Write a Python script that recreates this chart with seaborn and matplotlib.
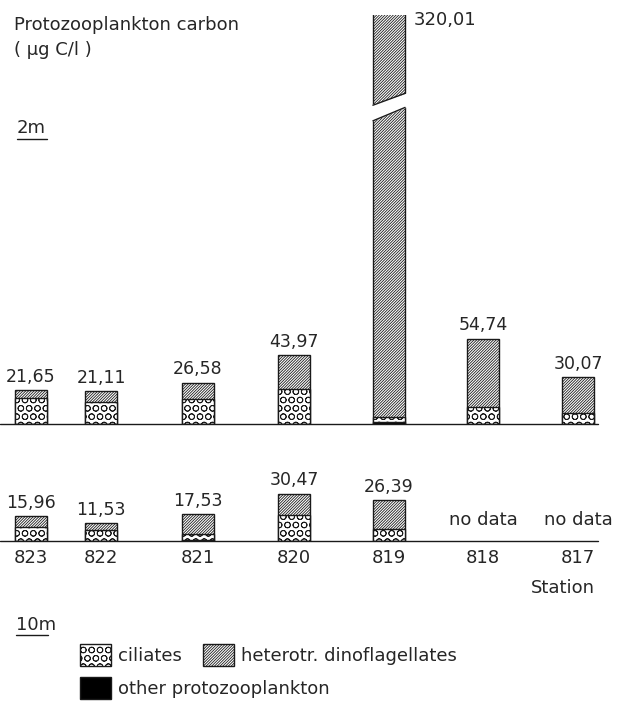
"""Protozooplankton carbon at 2 m and 10 m along the station transect."""

import numpy as np
import pandas as pd
import matplotlib
import matplotlib.pyplot as plt
from matplotlib.lines import Line2D
from matplotlib.patches import Patch, Polygon
import seaborn as sns

matplotlib.use("Agg")

STATIONS = ["823", "822", "821", "820", "819", "818", "817"]
# station position along the transect (arbitrary distance units)
TRANSECT_POS = [31, 101, 198, 294, 389, 483, 578]

TOTAL_2M = [21.65, 21.11, 26.58, 43.97, 320.01, 54.74, 30.07]
CILIATES_2M = [16.5, 14.0, 16.0, 22.5, 3.0, 11.0, 7.0]
OTHER_2M = [0.0, 0.0, 0.0, 0.0, 1.5, 0.0, 0.0]

TOTAL_10M = [15.96, 11.53, 17.53, 30.47, 26.39, np.nan, np.nan]
CILIATES_10M = [9.0, 7.0, 3.5, 17.0, 8.0, np.nan, np.nan]
OTHER_10M = [0.0, 0.0, 0.8, 0.0, 0.0, np.nan, np.nan]

W, H = 620, 707
EDGE = "#1a1a1a"
HATCH_DINO = "////////////"
HATCH_CIL = "OO"
BAR_W = 0.46
HALF_BAR = BAR_W * 70 / 2
TOP_YMAX = 262.0
BOT_YMAX = 38.5

sns.set_style("white")
plt.rcParams["font.family"] = ["DejaVu Sans"]
plt.rcParams["hatch.linewidth"] = 0.6


def fmt(v):
    return f"{v:.2f}".replace(".", ",")


def draw_panel(ax, total, cil, other, ymax):
    df = pd.DataFrame({
        "pos": TRANSECT_POS,
        "total": total,
        "cil_other": np.add(cil, other),
        "other": other,
    })
    common = dict(data=df, x="pos", native_scale=True, width=BAR_W, ax=ax,
                  errorbar=None, saturation=1, linewidth=1.0, edgecolor=EDGE)
    sns.barplot(y="total", color="white", hatch=HATCH_DINO, **common)
    sns.barplot(y="cil_other", color="white", hatch=HATCH_CIL, **common)
    sns.barplot(y="other", color="black", **common)

    ax.set_xlim(0, W)
    ax.set_ylim(0, ymax)
    ax.axhline(0, xmin=0, xmax=0.965, color=EDGE, lw=1.0, clip_on=False, zorder=4)
    for p, v in zip(TRANSECT_POS, total):
        if np.isnan(v):
            ax.text(p, ymax * 0.35, "no data", ha="center", va="center", fontsize=13)
        elif v > ymax:
            ax.annotate(fmt(v), (p, ymax), xytext=(18, 3), textcoords="offset points",
                        ha="left", va="top", fontsize=13)
        else:
            ax.annotate(fmt(v), (p, v), xytext=(0, 3), textcoords="offset points",
                        ha="center", va="bottom", fontsize=12.5)
    for s in ax.spines.values():
        s.set_visible(False)
    ax.set_xlabel("")
    ax.set_ylabel("")
    ax.set_yticks([])


fig = plt.figure(figsize=(W / 100, H / 100), dpi=100)

ax_top = fig.add_axes([0, 1 - 424 / H, 1, 409 / H])
draw_panel(ax_top, TOTAL_2M, CILIATES_2M, OTHER_2M, TOP_YMAX)
ax_top.set_xticks([])

# axis break on the tall bar
i_big = int(np.argmax(TOTAL_2M))
x0 = TRANSECT_POS[i_big] - HALF_BAR
x1 = TRANSECT_POS[i_big] + HALF_BAR
ax_top.add_patch(Polygon([(x0 - 3, 193), (x1 + 3, 203), (x1 + 3, 212), (x0 - 3, 204)],
                         closed=True, facecolor="white", edgecolor="none", zorder=5))
ax_top.plot([x0, x1], [194.2, 202.8], color=EDGE, lw=1.0, zorder=6)
ax_top.plot([x0, x1], [204.2, 211.8], color=EDGE, lw=1.0, zorder=6)

ax_bot = fig.add_axes([0, 1 - 541 / H, 1, 60 / H])
draw_panel(ax_bot, TOTAL_10M, CILIATES_10M, OTHER_10M, BOT_YMAX)
ax_bot.set_xticks(TRANSECT_POS, STATIONS, fontsize=13)
ax_bot.tick_params(axis="x", length=0, pad=6)

fig.text(595 / W, 1 - 588 / H, "Station", ha="right", va="center", fontsize=13)

fig.text(14 / W, 1 - 25 / H, "Protozooplankton carbon", ha="left", va="center", fontsize=13)
fig.text(14 / W, 1 - 50 / H, "( µg C/l )", ha="left", va="center", fontsize=13)

fig.text(17 / W, 1 - 128 / H, "2m", ha="left", va="center", fontsize=13)
fig.add_artist(Line2D([17 / W, 47 / W], [1 - 139 / H, 1 - 139 / H], color=EDGE, lw=1.0))
fig.text(16 / W, 1 - 625 / H, "10m", ha="left", va="center", fontsize=13)
fig.add_artist(Line2D([16 / W, 48 / W], [1 - 635 / H, 1 - 635 / H], color=EDGE, lw=1.0))

leg_kw = dict(loc="upper left", frameon=False, fontsize=13, handlelength=1.7,
              handleheight=1.5, handletextpad=0.4, labelspacing=0.6)
fig.legend(handles=[
    Patch(facecolor="white", edgecolor=EDGE, hatch=HATCH_CIL, label="ciliates"),
    Patch(facecolor="black", edgecolor=EDGE, label="other protozooplankton"),
], bbox_to_anchor=(64 / W, 1 - 628 / H), **leg_kw)
fig.legend(handles=[
    Patch(facecolor="white", edgecolor=EDGE, hatch=HATCH_DINO, label="heterotr. dinoflagellates"),
], bbox_to_anchor=(187 / W, 1 - 628 / H), **leg_kw)

fig.savefig("out.png", dpi=100)
plt.close(fig)
